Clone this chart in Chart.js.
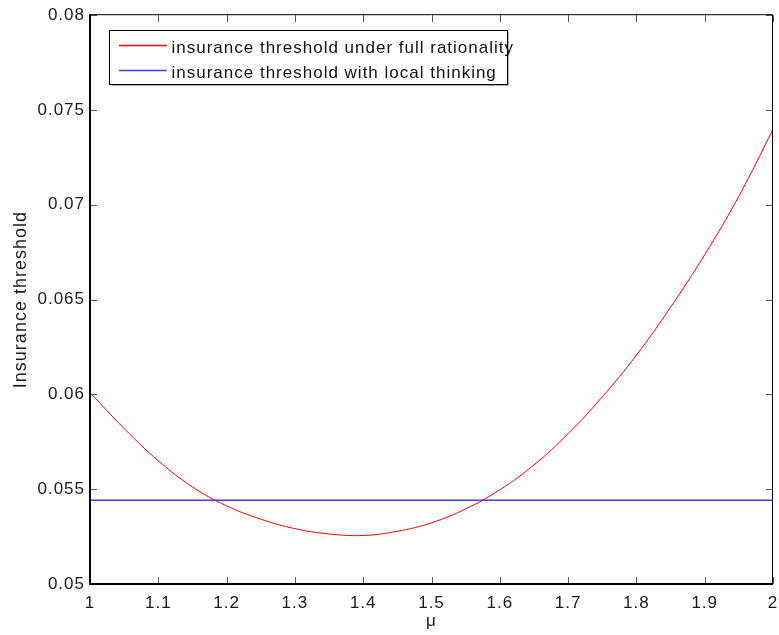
<!DOCTYPE html>
<html>
<head>
<meta charset="utf-8">
<script src="https://cdn.jsdelivr.net/npm/chart.js@4.4.1/dist/chart.umd.min.js"></script>
<style>
html,body{margin:0;padding:0;background:#ffffff;}
#wrap{width:779px;height:635px;position:relative;}
canvas{display:block;}
</style>
</head>
<body>
<div id="wrap"><canvas id="c" width="779" height="635"></canvas></div>
<script>
// ---- data ----
const muValues = [1.00, 1.05, 1.10, 1.15, 1.20, 1.25, 1.30, 1.35, 1.40, 1.45, 1.50,
                  1.55, 1.60, 1.65, 1.70, 1.75, 1.80, 1.85, 1.90, 1.95, 2.00];
const thresholdFullRationality = [0.06010, 0.05820, 0.05650, 0.05512, 0.05412, 0.05342, 0.05292,
                                  0.05264, 0.05256, 0.05278, 0.05323, 0.05396, 0.05497, 0.05628,
                                  0.05793, 0.05987, 0.06207, 0.06460, 0.06737, 0.07045, 0.07398];
const thresholdLocalThinking = [0.05442, 0.05442, 0.05442, 0.05442, 0.05442, 0.05442, 0.05442,
                                0.05442, 0.05442, 0.05442, 0.05442, 0.05442, 0.05442, 0.05442,
                                0.05442, 0.05442, 0.05442, 0.05442, 0.05442, 0.05442, 0.05442];
const seriesNames = ['insurance threshold under full rationality', 'insurance threshold with local thinking'];
const seriesColors = ['#ff0000', '#3c3cff'];
const xTickLabels = ['1', '1.1', '1.2', '1.3', '1.4', '1.5', '1.6', '1.7', '1.8', '1.9', '2'];
const yTickLabels = ['0.05', '0.055', '0.06', '0.065', '0.07', '0.075', '0.08'];
const xTitle = 'μ';
const yTitle = 'Insurance threshold';

const FONT_FAMILY = '"Liberation Sans", Arial, Helvetica, sans-serif';
const FONT_SIZE = 17;
const LETTER_SPACING = '1px';

function toPoints(xs, ys) { return xs.map((x, i) => ({x: x, y: ys[i]})); }

const spacingPlugin = {
  id: 'spacing',
  beforeInit(chart) { chart.ctx.letterSpacing = LETTER_SPACING; },
  beforeLayout(chart) { chart.ctx.letterSpacing = LETTER_SPACING; },
  beforeDraw(chart) { chart.ctx.letterSpacing = LETTER_SPACING; }
};

const boxPlugin = {
  id: 'matlabBox',
  afterDatasetsDraw(chart) {
    const ctx = chart.ctx;
    const a = chart.chartArea;
    const xs = chart.scales.x, ys = chart.scales.y;
    ctx.save();
    // inward tick marks
    ctx.strokeStyle = '#5a5a5a';
    ctx.lineWidth = 1;
    ctx.beginPath();
    xTickLabels.forEach(t => {
      const px = Math.round(xs.getPixelForValue(parseFloat(t))) + 0.5;
      ctx.moveTo(px, a.bottom); ctx.lineTo(px, a.bottom - 7);
      ctx.moveTo(px, a.top); ctx.lineTo(px, a.top + 7);
    });
    yTickLabels.forEach(t => {
      const py = Math.round(ys.getPixelForValue(parseFloat(t))) + 0.5;
      ctx.moveTo(a.left, py); ctx.lineTo(a.left + 7, py);
      ctx.moveTo(a.right, py); ctx.lineTo(a.right - 7, py);
    });
    ctx.stroke();
    // box
    ctx.strokeStyle = '#000000';
    ctx.lineWidth = 1;
    ctx.beginPath();
    ctx.moveTo(a.left, a.top - 0.5); ctx.lineTo(a.right, a.top - 0.5);
    ctx.moveTo(a.right - 0.5, a.top); ctx.lineTo(a.right - 0.5, a.bottom);
    ctx.stroke();
    ctx.lineWidth = 2;
    ctx.beginPath();
    ctx.moveTo(a.left, a.top - 1); ctx.lineTo(a.left, a.bottom + 1);
    ctx.moveTo(a.left - 1, a.bottom); ctx.lineTo(a.right, a.bottom);
    ctx.stroke();
    ctx.restore();
  },
  afterDraw(chart) {
    const ctx = chart.ctx;
    ctx.save();
    const bx = 109.5, by = 30.5, bw = 398, bh = 54;
    // faint shadow
    ctx.strokeStyle = '#b0b0b0';
    ctx.lineWidth = 1;
    ctx.beginPath();
    ctx.moveTo(bx + 1, by + bh + 1); ctx.lineTo(bx + bw + 1, by + bh + 1); ctx.lineTo(bx + bw + 1, by + 1);
    ctx.stroke();
    ctx.fillStyle = '#ffffff';
    ctx.fillRect(bx, by, bw, bh);
    ctx.strokeStyle = '#000000';
    ctx.strokeRect(bx, by, bw, bh);
    const rows = [45.5, 70.5];
    seriesNames.forEach((name, i) => {
      ctx.strokeStyle = seriesColors[i];
      ctx.lineWidth = 1.3;
      ctx.beginPath();
      ctx.moveTo(119, rows[i]); ctx.lineTo(167, rows[i]);
      ctx.stroke();
      ctx.fillStyle = '#111111';
      ctx.font = FONT_SIZE + 'px ' + FONT_FAMILY;
      ctx.letterSpacing = LETTER_SPACING;
      ctx.textAlign = 'left';
      ctx.textBaseline = 'alphabetic';
      ctx.fillText(name, 171.5, rows[i] + 7.5);
    });
    ctx.restore();
  }
};

const tickFont = {family: FONT_FAMILY, size: FONT_SIZE};

new Chart(document.getElementById('c'), {
  type: 'line',
  data: {
    datasets: [
      {
        label: seriesNames[0],
        data: toPoints(muValues, thresholdFullRationality),
        borderColor: seriesColors[0],
        borderWidth: 1,
        pointRadius: 0,
        fill: false,
        tension: 0.4
      },
      {
        label: seriesNames[1],
        data: toPoints(muValues, thresholdLocalThinking),
        borderColor: seriesColors[1],
        borderWidth: 1.5,
        pointRadius: 0,
        fill: false
      }
    ]
  },
  options: {
    responsive: false,
    animation: false,
    devicePixelRatio: 1,
    layout: {padding: {top: 14, right: 0, left: 0, bottom: 0}},
    plugins: {
      legend: {display: false},
      tooltip: {enabled: false}
    },
    scales: {
      x: {
        type: 'linear',
        min: 1, max: 2,
        afterBuildTicks(scale) { scale.ticks = xTickLabels.map(t => ({value: parseFloat(t)})); },
        afterFit(scale) { scale.height = 51; scale.paddingRight = 6; scale.paddingLeft = 0; },
        grid: {display: false, drawTicks: false},
        border: {display: false},
        ticks: {
          font: tickFont, color: '#1a1a1a', padding: 9, maxRotation: 0, autoSkip: false,
          callback: (v, i) => xTickLabels[i]
        },
        title: {display: true, text: xTitle, font: tickFont, color: '#1a1a1a', padding: {top: 0, bottom: 3}}
      },
      y: {
        type: 'linear',
        min: 0.05, max: 0.08,
        afterBuildTicks(scale) { scale.ticks = yTickLabels.map(t => ({value: parseFloat(t)})); },
        afterFit(scale) { scale.width = 90; },
        grid: {display: false, drawTicks: false},
        border: {display: false},
        ticks: {
          font: tickFont, color: '#1a1a1a', padding: 5, autoSkip: false,
          callback: (v, i) => yTickLabels[i]
        },
        title: {display: true, text: yTitle, font: {family: FONT_FAMILY, size: 18}, color: '#1a1a1a', padding: {top: 10, bottom: 0}}
      }
    }
  },
  plugins: [spacingPlugin, boxPlugin]
});
</script>
</body>
</html>
